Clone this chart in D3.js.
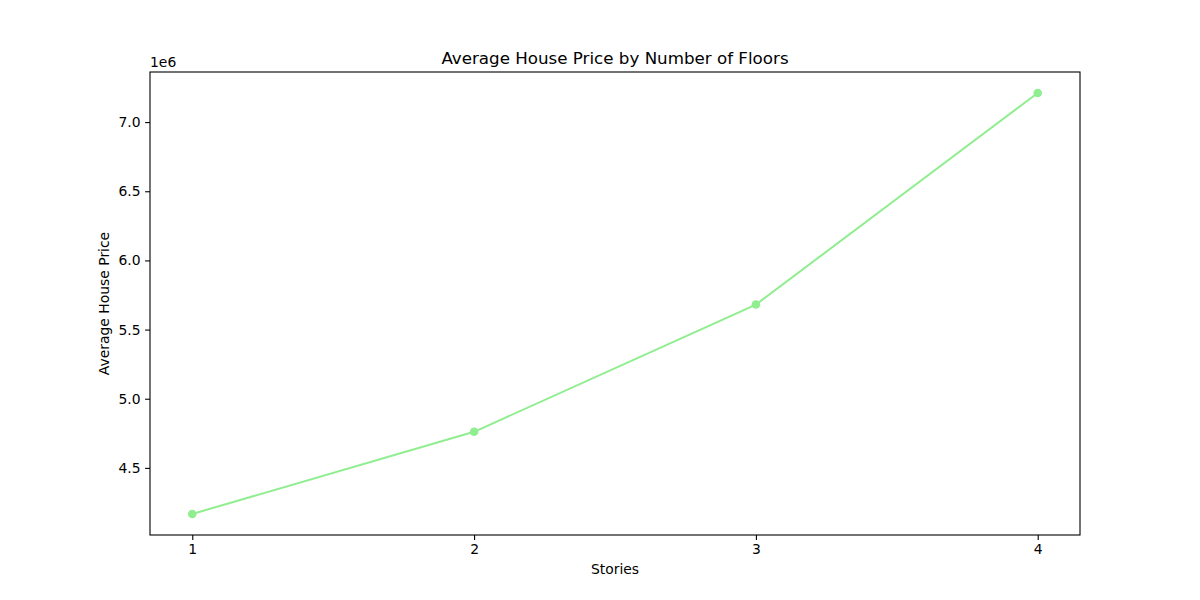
<!DOCTYPE html>
<html lang="en">
  <head>
    <meta charset="utf-8">
    <title>Average House Price by Number of Floors</title>
    <script src="https://d3js.org/d3.v7.js"></script>
    <style>
      html, body { margin: 0; padding: 0; background: white; overflow: hidden; }
      svg { display: block; }
      text { font-family: "DejaVu Sans", sans-serif; }
    </style>
  </head>
  <body>
    <script type="text/javascript">
      // data
      var stories = [1, 2, 3, 4];
      var avgPrice = [4167000, 4761000, 5681000, 7210000];
      var yTicks = [4500000, 5000000, 5500000, 6000000, 6500000, 7000000];

      var w = 1200, h = 600;
      var margin = {top: 72, right: 120, bottom: 65, left: 150};
      var innerWidth = w - margin.left - margin.right;
      var innerHeight = h - margin.top - margin.bottom;

      var svg = d3.select("body").append("svg")
        .attr("width", w)
        .attr("height", h);

      // matplotlib-ish 5% margins
      var xPad = (d3.max(stories) - d3.min(stories)) * 0.05;
      var yPad = (d3.max(avgPrice) - d3.min(avgPrice)) * 0.05;

      var xScale = d3.scaleLinear()
        .domain([d3.min(stories) - xPad, d3.max(stories) + xPad])
        .range([0, innerWidth]);
      var yScale = d3.scaleLinear()
        .domain([d3.min(avgPrice) - yPad, d3.max(avgPrice) + yPad])
        .range([innerHeight, 0]);

      var chart = svg.append("g")
        .attr("transform", `translate(${margin.left}, ${margin.top})`);

      var xAxis = d3.axisBottom(xScale)
        .tickValues(stories)
        .tickFormat(d3.format("d"))
        .tickSizeOuter(0)
        .tickSize(4.9)
        .tickPadding(4.5);
      var yAxis = d3.axisLeft(yScale)
        .tickValues(yTicks)
        .tickFormat(d => (d / 1e6).toFixed(1))
        .tickSizeOuter(0)
        .tickSize(4.9)
        .tickPadding(4.5);

      var gx = chart.append("g")
        .attr("transform", `translate(0, ${innerHeight})`)
        .call(xAxis);
      var gy = chart.append("g").call(yAxis);
      [gx, gy].forEach(g => {
        g.select(".domain").remove();
        g.selectAll("text").attr("font-size", 13.9).attr("fill", "black")
          .attr("font-family", "DejaVu Sans, sans-serif");
        g.selectAll("line").attr("stroke", "black").attr("stroke-width", 1.1);
      });

      // line + markers
      var pts = stories.map((s, i) => [s, avgPrice[i]]);
      chart.append("path")
        .datum(pts)
        .attr("fill", "none")
        .attr("stroke", "lightgreen")
        .attr("stroke-width", 2)
        .attr("d", d3.line().x(d => xScale(d[0])).y(d => yScale(d[1])));

      chart.selectAll("circle")
        .data(pts).enter().append("circle")
        .attr("cx", d => xScale(d[0]))
        .attr("cy", d => yScale(d[1]))
        .attr("r", 4.3)
        .attr("fill", "lightgreen");

      // frame
      chart.append("rect")
        .attr("width", innerWidth)
        .attr("height", innerHeight)
        .attr("fill", "none")
        .attr("stroke", "black")
        .attr("stroke-width", 1.1);

      // offset label
      svg.append("text")
        .attr("x", margin.left)
        .attr("y", margin.top - 5)
        .attr("font-size", 13.9)
        .text("1e6");

      svg.append("text")
        .attr("x", margin.left + innerWidth / 2)
        .attr("y", margin.top - 8)
        .attr("text-anchor", "middle")
        .attr("font-size", 16.7)
        .text("Average House Price by Number of Floors");

      svg.append("text")
        .attr("x", margin.left + innerWidth / 2)
        .attr("y", 574)
        .attr("text-anchor", "middle")
        .attr("font-size", 13.9)
        .text("Stories");

      svg.append("text")
        .attr("transform", `translate(109, ${margin.top + innerHeight / 2}) rotate(-90)`)
        .attr("text-anchor", "middle")
        .attr("font-size", 13.9)
        .text("Average House Price");
    </script>
  </body>
</html>
